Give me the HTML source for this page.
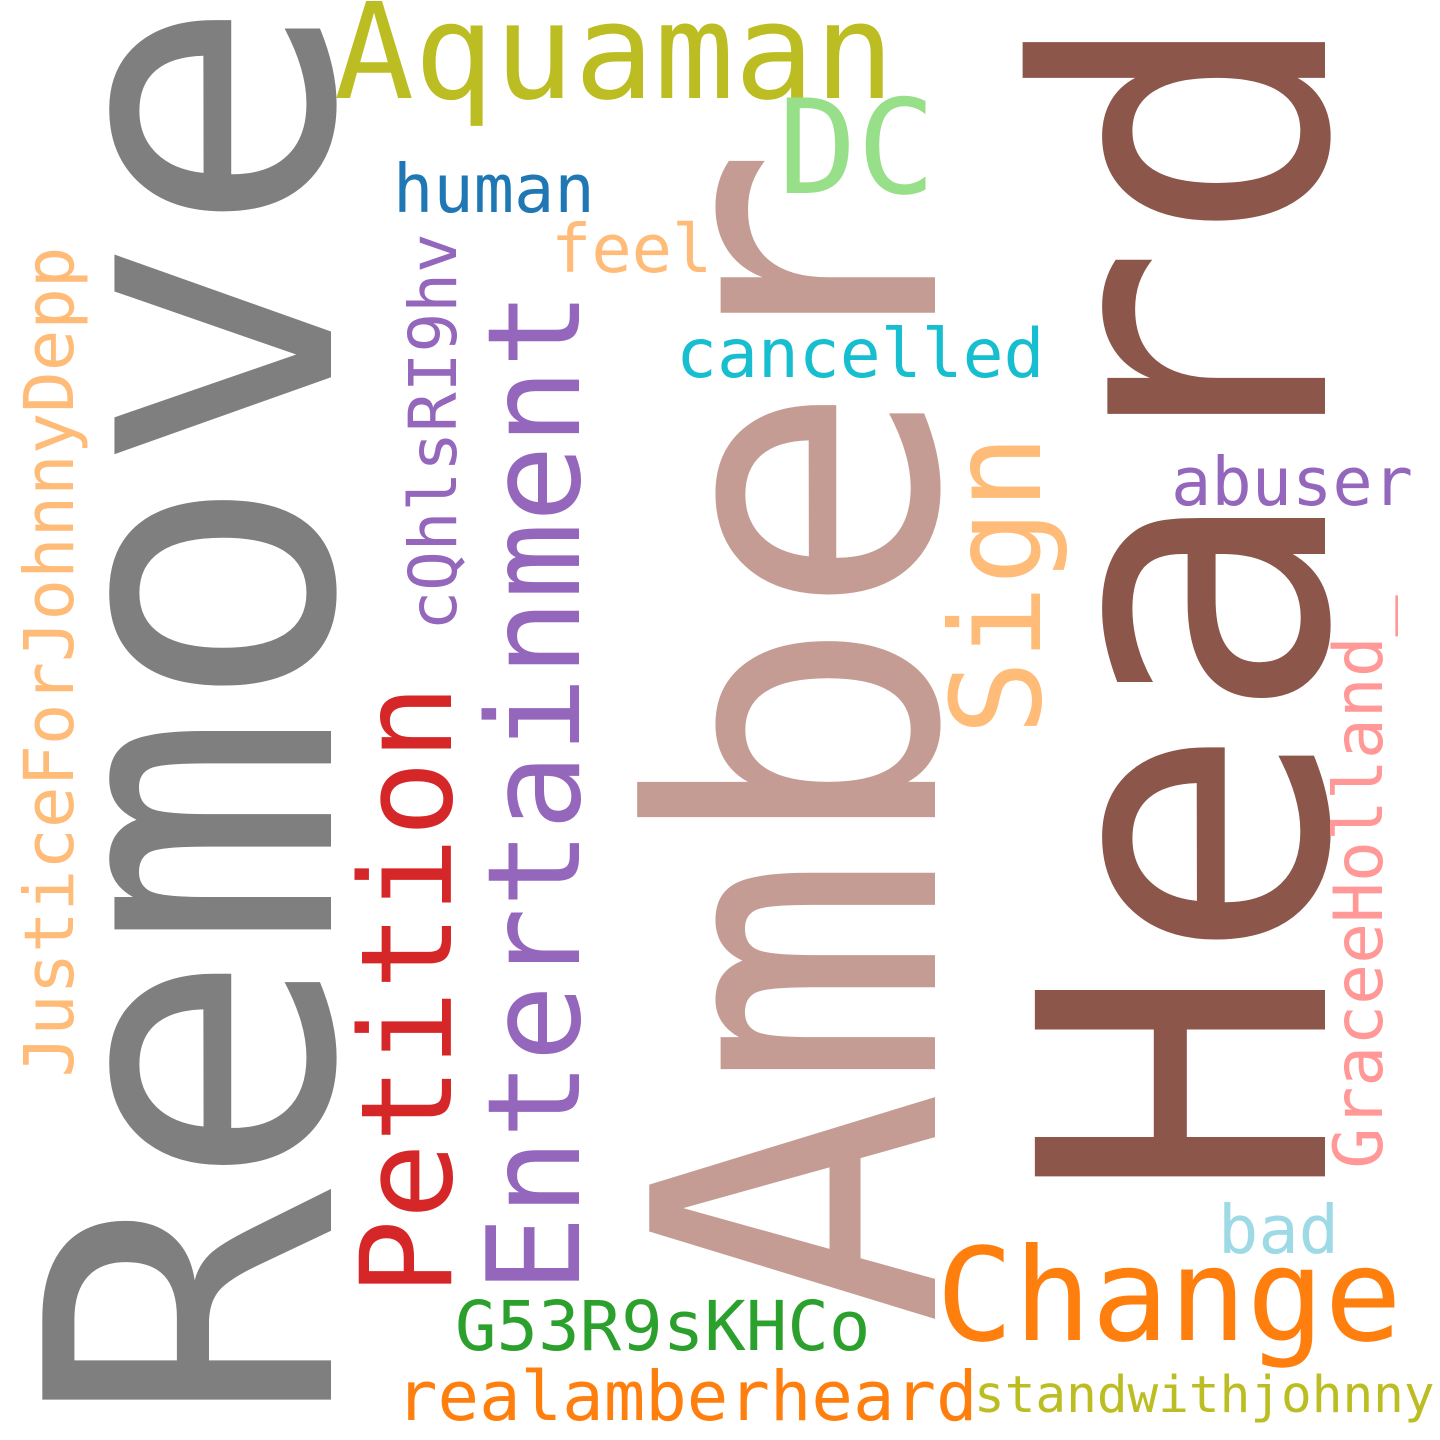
<!DOCTYPE html>
<html><head><meta charset="utf-8"><style>
html,body{margin:0;padding:0;background:#fff;}
svg{display:block;}
text{font-family:"DejaVu Sans Mono","Liberation Mono",monospace;}
</style></head><body>
<svg width="1440" height="1440" viewBox="0 0 1440 1440">
<rect width="1440" height="1440" fill="#fff"/>
<text fill="#7f7f7f" font-size="396" text-anchor="middle" transform="translate(331,712) rotate(-90)">Remove</text>
<text fill="#c49c94" font-size="392" text-anchor="middle" transform="translate(935,736) rotate(-90)">Amber</text>
<text fill="#8c564b" font-size="398" text-anchor="middle" transform="translate(1325,604) rotate(-90)">Heard</text>
<text fill="#bcbd22" font-size="133" x="334" y="98">Aquaman</text>
<text fill="#98df8a" font-size="131" x="778" y="193">DC</text>
<text fill="#1f77b4" font-size="67" x="393" y="212">human</text>
<text fill="#ffbb78" font-size="67" x="551" y="272">feel</text>
<text fill="#17becf" font-size="68" x="676" y="377">cancelled</text>
<text fill="#9467bd" font-size="67" x="1171" y="505">abuser</text>
<text fill="#9edae5" font-size="67" x="1218" y="1253">bad</text>
<text fill="#ff7f0e" font-size="129" x="936" y="1340">Change</text>
<text fill="#2ca02c" font-size="69" x="455" y="1350">G53R9sKHCo</text>
<text fill="#ff7f0e" font-size="69" x="396" y="1420">realamberheard</text>
<text fill="#bcbd22" font-size="51" x="974" y="1412">standwithjohnny</text>
<text fill="#ffbb78" font-size="69" text-anchor="middle" transform="translate(73,662) rotate(-90)">JusticeForJohnnyDepp</text>
<text fill="#9467bd" font-size="66" text-anchor="middle" transform="translate(456,432) rotate(-90)">cQhlsRI9hv</text>
<text fill="#d62728" font-size="127" text-anchor="middle" transform="translate(451,990) rotate(-90)">Petition</text>
<text fill="#9467bd" font-size="128" text-anchor="middle" transform="translate(579,792) rotate(-90)">Entertainment</text>
<text fill="#ffbb78" font-size="125" text-anchor="middle" transform="translate(1040,585) rotate(-90)">Sign</text>
<text fill="#ff9896" font-size="68" text-anchor="middle" transform="translate(1382,882) rotate(-90)">GraceeHolland_</text>
</svg>
</body></html>
